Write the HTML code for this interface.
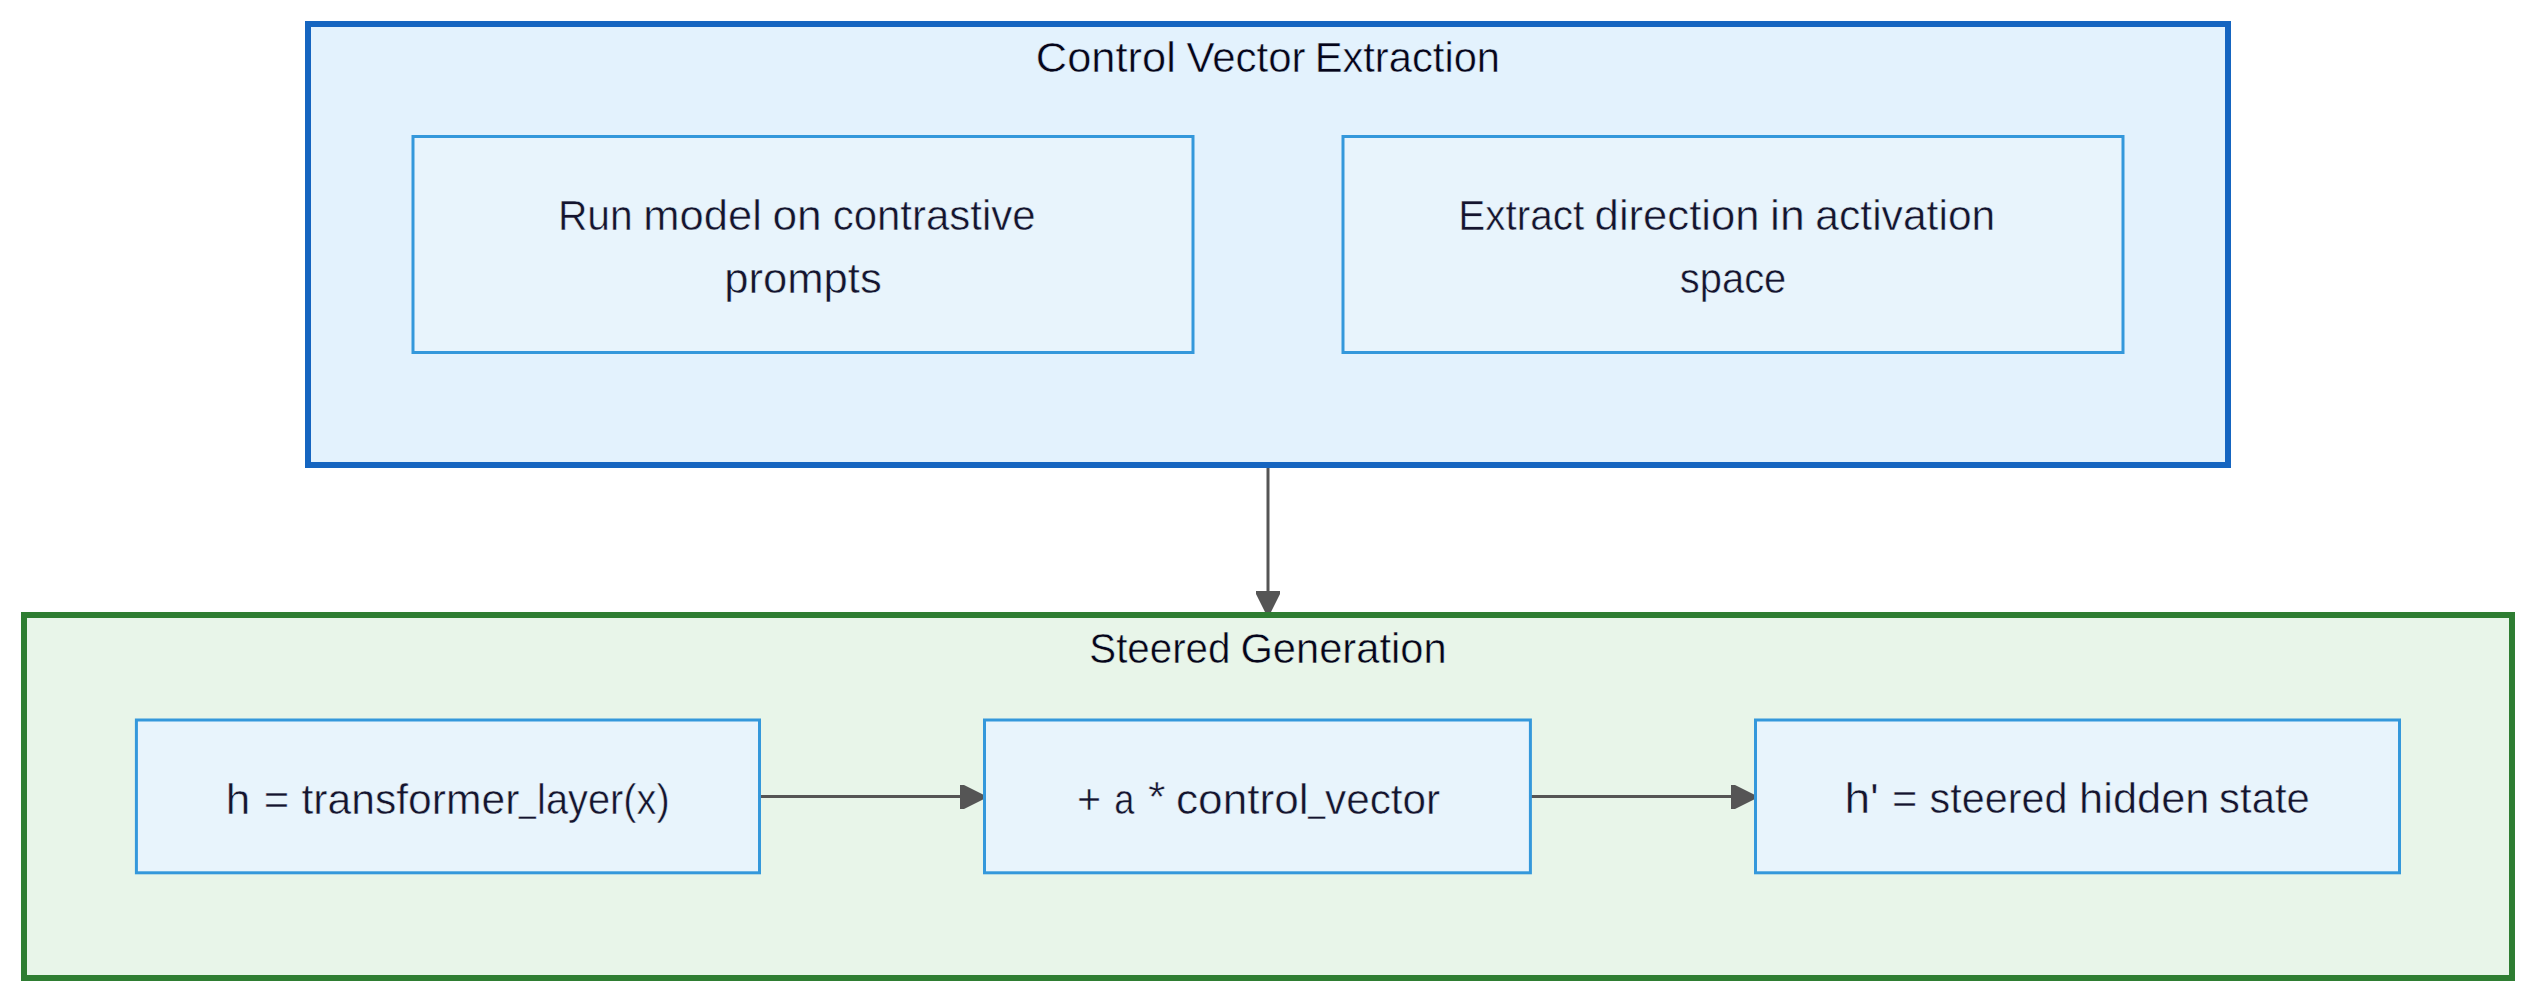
<!DOCTYPE html>
<html>
<head>
<meta charset="utf-8">
<style>
html,body{margin:0;padding:0;background:#ffffff;}
body{width:2538px;height:1002px;overflow:hidden;}
svg{display:block;}
text{font-family:"Liberation Sans", sans-serif;}
.t{fill:#05051a;font-size:42px;stroke-width:0.5px;}
.tb{stroke:#E3F2FD;}
.tg{stroke:#E8F5E9;}
.n{fill:#14142e;font-size:42px;stroke:#E8F4FC;stroke-width:0.5px;}
</style>
</head>
<body>
<svg width="2538" height="1002" viewBox="0 0 2538 1002">
  <!-- top cluster -->
  <rect x="308" y="24" width="1920" height="441" fill="#E3F2FD" stroke="#1565C0" stroke-width="6"/>
  <rect x="413" y="136.5" width="780" height="216" fill="#E8F4FC" stroke="#3498DB" stroke-width="3"/>
  <rect x="1343" y="136.5" width="780" height="216" fill="#E8F4FC" stroke="#3498DB" stroke-width="3"/>

  <!-- vertical edge -->
  <line x1="1268" y1="468" x2="1268" y2="595" stroke="#555555" stroke-width="3"/>
  <polygon points="1256,591 1280,591 1280,594 1268,618 1256,594" fill="#555555"/>

  <!-- bottom cluster -->
  <rect x="24" y="615" width="2488" height="363" fill="#E8F5E9" stroke="#2E7D32" stroke-width="6"/>

  <!-- horizontal edges -->
  <line x1="759.5" y1="796.5" x2="962" y2="796.5" stroke="#555555" stroke-width="3"/>
  <polygon points="960,785 964,785 986,796 986,798 964,809 960,809" fill="#555555"/>
  <line x1="1530.4" y1="796.5" x2="1733" y2="796.5" stroke="#555555" stroke-width="3"/>
  <polygon points="1731,785 1735,785 1757,796 1757,798 1735,809 1731,809" fill="#555555"/>

  <rect x="136.4" y="720" width="623.1" height="152.8" fill="#E8F4FC" stroke="#3498DB" stroke-width="3"/>
  <rect x="984.5" y="720" width="545.9" height="152.8" fill="#E8F4FC" stroke="#3498DB" stroke-width="3"/>
  <rect x="1755.5" y="720" width="644" height="152.8" fill="#E8F4FC" stroke="#3498DB" stroke-width="3"/>
  <text class="t tb" x="1035.83" y="72" textLength="139.99" lengthAdjust="spacingAndGlyphs">Control</text>
  <text class="t tb" x="1186.50" y="72" textLength="119.08" lengthAdjust="spacingAndGlyphs">Vector</text>
  <text class="t tb" x="1314.63" y="72" textLength="185.40" lengthAdjust="spacingAndGlyphs">Extraction</text>
  <text class="n" x="557.91" y="230.1" textLength="74.86" lengthAdjust="spacingAndGlyphs">Run</text>
  <text class="n" x="643.39" y="230.1" textLength="118.54" lengthAdjust="spacingAndGlyphs">model</text>
  <text class="n" x="772.49" y="230.1" textLength="49.28" lengthAdjust="spacingAndGlyphs">on</text>
  <text class="n" x="832.70" y="230.1" textLength="202.99" lengthAdjust="spacingAndGlyphs">contrastive</text>
  <text class="n" x="724.18" y="293.3" textLength="157.60" lengthAdjust="spacingAndGlyphs">prompts</text>
  <text class="n" x="1458.25" y="230.1" textLength="125.93" lengthAdjust="spacingAndGlyphs">Extract</text>
  <text class="n" x="1594.62" y="230.1" textLength="164.95" lengthAdjust="spacingAndGlyphs">direction</text>
  <text class="n" x="1770.12" y="230.1" textLength="34.64" lengthAdjust="spacingAndGlyphs">in</text>
  <text class="n" x="1815.37" y="230.1" textLength="179.90" lengthAdjust="spacingAndGlyphs">activation</text>
  <text class="n" x="1679.80" y="293.4" textLength="106.47" lengthAdjust="spacingAndGlyphs">space</text>
  <text class="t tg" x="1089.28" y="662.7" textLength="141.20" lengthAdjust="spacingAndGlyphs">Steered</text>
  <text class="t tg" x="1240.42" y="662.7" textLength="206.17" lengthAdjust="spacingAndGlyphs">Generation</text>
  <text class="n" x="225.75" y="813.8" textLength="24.53" lengthAdjust="spacingAndGlyphs">h</text>
  <text class="n" x="263.72" y="813.8" textLength="25.51" lengthAdjust="spacingAndGlyphs">=</text>
  <text class="n" x="301.49" y="813.8" textLength="217.84" lengthAdjust="spacingAndGlyphs">transformer</text>
  <text class="n" x="519.00" y="811.4" textLength="16.84" lengthAdjust="spacingAndGlyphs">_</text>
  <text class="n" x="537.06" y="813.8" textLength="132.60" lengthAdjust="spacingAndGlyphs">layer(x)</text>
  <text class="n" x="1076.93" y="813.6" textLength="24.16" lengthAdjust="spacingAndGlyphs">+</text>
  <text class="n" x="1114.28" y="813.6" textLength="20.13" lengthAdjust="spacingAndGlyphs">a</text>
  <text class="n" x="1147.93" y="810.6" textLength="17.53" lengthAdjust="spacingAndGlyphs">*</text>
  <text class="n" x="1176.00" y="813.6" textLength="132.63" lengthAdjust="spacingAndGlyphs">control</text>
  <text class="n" x="1308.20" y="811.2" textLength="16.84" lengthAdjust="spacingAndGlyphs">_</text>
  <text class="n" x="1324.99" y="813.6" textLength="115.18" lengthAdjust="spacingAndGlyphs">vector</text>
  <text class="n" x="1844.40" y="813.4" textLength="34.53" lengthAdjust="spacingAndGlyphs">h&#39;</text>
  <text class="n" x="1891.93" y="813.4" textLength="25.39" lengthAdjust="spacingAndGlyphs">=</text>
  <text class="n" x="1929.53" y="813.4" textLength="137.91" lengthAdjust="spacingAndGlyphs">steered</text>
  <text class="n" x="2079.10" y="813.4" textLength="130.43" lengthAdjust="spacingAndGlyphs">hidden</text>
  <text class="n" x="2219.11" y="813.4" textLength="90.64" lengthAdjust="spacingAndGlyphs">state</text>
</svg>
</body>
</html>
